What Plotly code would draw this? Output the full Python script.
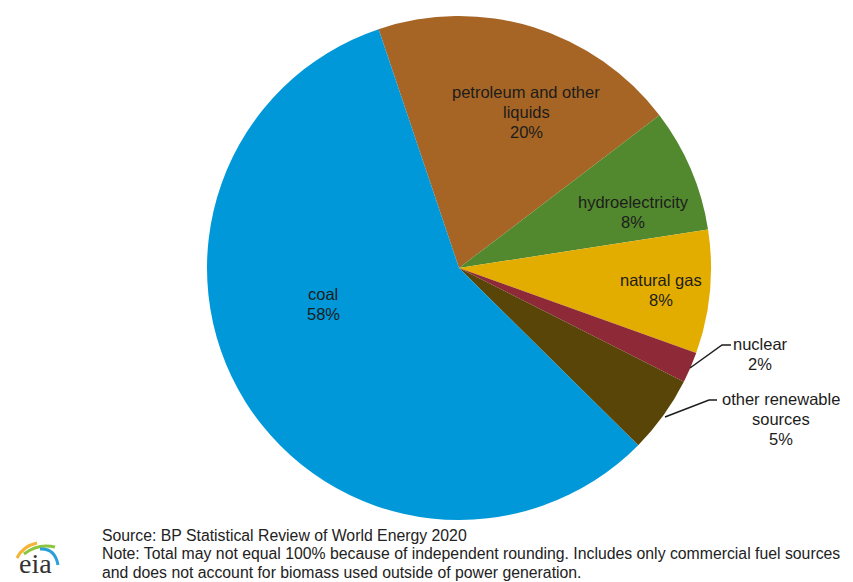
import plotly.graph_objects as go

# World primary energy consumption shares (percent)
sources = ["petroleum and other liquids", "hydroelectricity", "natural gas",
           "nuclear", "other renewable sources", "coal"]
shares = [20, 8, 8, 2, 5, 58]
colors = ["#A66524", "#53892E", "#E3AD00", "#8E2A38", "#594508", "#0098D8"]

W, H = 853, 582
cx, cy, r = 459, 268, 252  # pie centre and radius in pixels


def px(x):
    return x / W


def py(y):
    return 1 - y / H


fig = go.Figure(go.Pie(
    labels=sources,
    values=shares,
    sort=False,
    direction="clockwise",
    rotation=-18.6,
    marker=dict(colors=colors, line=dict(width=0)),
    textinfo="none",
    hoverinfo="label+value",
    showlegend=False,
    domain=dict(x=[px(cx - r), px(cx + r)], y=[py(cy + r), py(cy - r)]),
))

font = dict(family="Liberation Sans, Arial, sans-serif", size=16.5, color="#1c1c1c")

# label text: display name lines, then the share
label_lines = {
    "petroleum and other liquids": ["petroleum and other", "liquids"],
    "hydroelectricity": ["hydroelectricity"],
    "natural gas": ["natural gas"],
    "nuclear": ["nuclear"],
    "other renewable sources": ["other renewable", "sources"],
    "coal": ["coal"],
}
# label anchor (centre x, top-line y) in pixels
label_pos = {
    "petroleum and other liquids": (526, 92),
    "hydroelectricity": (633, 202),
    "natural gas": (661, 280),
    "nuclear": (760, 344),
    "other renewable sources": (781, 399),
    "coal": (323, 294),
}

annotations = []
for name, val in zip(sources, shares):
    lines = label_lines[name] + [f"{val}%"]
    x0, y0 = label_pos[name]
    for i, t in enumerate(lines):
        annotations.append(dict(
            x=px(x0), y=py(y0 + i * 20), xref="paper", yref="paper",
            text=t, showarrow=False, font=font,
            xanchor="center", yanchor="middle",
        ))

# leader lines for the two thin slices
shapes = [
    dict(type="path", xref="paper", yref="paper",
         path=f"M {px(690)} {py(368)} L {px(722)} {py(345)} L {px(731)} {py(345)}",
         line=dict(color="#1c1c1c", width=1.5)),
    dict(type="path", xref="paper", yref="paper",
         path=f"M {px(665)} {py(417)} L {px(709)} {py(400)} L {px(717)} {py(400)}",
         line=dict(color="#1c1c1c", width=1.5)),
]

# footer notes
notes = [
    "Source: BP Statistical Review of World Energy 2020",
    "Note: Total may not equal 100% because of independent rounding. Includes only commercial fuel sources",
    "and does not account for biomass used outside of power generation.",
]
for i, t in enumerate(notes):
    annotations.append(dict(
        x=px(100), y=py(535.5 + i * 18.3), xref="paper", yref="paper",
        text=t, showarrow=False, xanchor="left", yanchor="middle",
        font=dict(family="Liberation Sans, Arial, sans-serif", size=15.8, color="#222222"),
    ))

# eia logo: wordmark plus coloured swooshes
annotations.append(dict(
    x=px(35), y=py(581), xref="paper", yref="paper", text="eia",
    showarrow=False, xanchor="center", yanchor="bottom",
    font=dict(family="Liberation Serif, DejaVu Serif, serif", size=28, color="#333333"),
))
swoosh = [
    ("#F5B335", f"M {px(17)} {py(558)} Q {px(23)} {py(546)} {px(37)} {py(543)}"),
    ("#8CC63F", f"M {px(24)} {py(554)} Q {px(38)} {py(543)} {px(55)} {py(547)}"),
    ("#2A9FD8", f"M {px(40)} {py(549)} Q {px(55)} {py(548)} {px(58)} {py(565)}"),
]
for col, p in swoosh:
    shapes.append(dict(type="path", xref="paper", yref="paper", path=p,
                       line=dict(color=col, width=3)))

fig.update_layout(
    width=W, height=H,
    margin=dict(l=0, r=0, t=0, b=0),
    paper_bgcolor="white", plot_bgcolor="white",
    annotations=annotations, shapes=shapes,
)

fig.write_html("out.html")
